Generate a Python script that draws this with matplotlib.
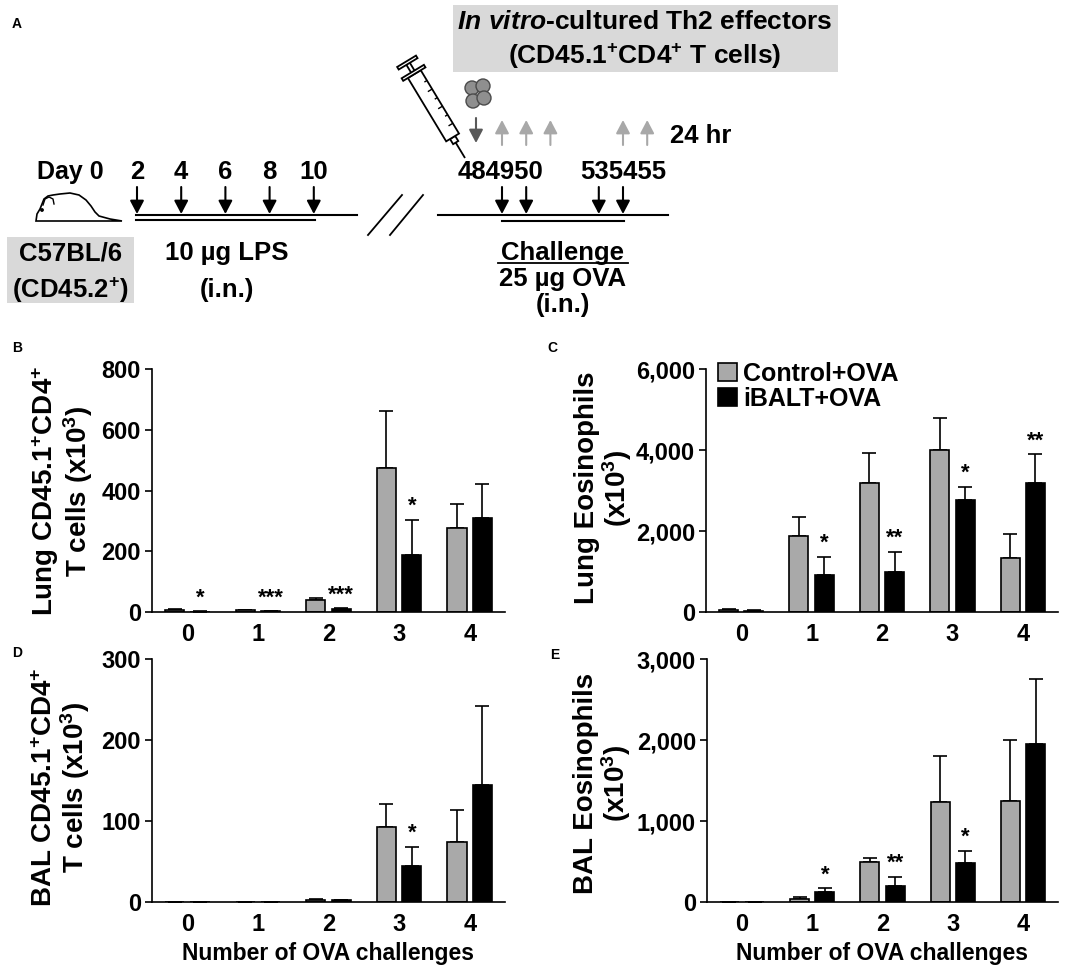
import numpy as np
import matplotlib
matplotlib.use("Agg")
import matplotlib.pyplot as plt
from matplotlib.patches import Rectangle, Circle, Polygon
from matplotlib.ticker import FuncFormatter

plt.rcParams['font.family'] = ['Liberation Sans', 'DejaVu Sans']
plt.rcParams['font.weight'] = 'bold'
plt.rcParams['mathtext.fontset'] = 'custom'
plt.rcParams['mathtext.rm'] = 'Liberation Sans:bold'
plt.rcParams['mathtext.bf'] = 'Liberation Sans:bold'
plt.rcParams['mathtext.it'] = 'Liberation Sans:bold:italic'

# ---------------- data ----------------
challenges = [0, 1, 2, 3, 4]
series_names = ['Control+OVA', 'iBALT+OVA']

b_ctrl = [8, 5, 40, 474, 278]
b_ctrl_sem = [3, 2, 5, 187, 79]
b_ibalt = [1, 2, 10, 187, 308]
b_ibalt_sem = [1, 1, 3, 117, 115]
b_stars = ['*', '***', '***', '*', '']

c_ctrl = [50, 1886, 3180, 4003, 1334]
c_ctrl_sem = [20, 470, 741, 799, 593]
c_ibalt = [30, 914, 997, 2768, 3196]
c_ibalt_sem = [10, 453, 494, 329, 700]
c_stars = ['', '*', '**', '*', '**']

d_ctrl = [0, 0, 3, 92, 74]
d_ctrl_sem = [0, 0, 1, 29, 40]
d_ibalt = [0, 0, 2, 44, 144]
d_ibalt_sem = [0, 0, 1, 24, 98]
d_stars = ['', '', '', '*', '']

e_ctrl = [0, 33, 494, 1230, 1243]
e_ctrl_sem = [0, 25, 45, 577, 761]
e_ibalt = [0, 119, 198, 477, 1951]
e_ibalt_sem = [0, 50, 115, 157, 802]
e_stars = ['', '*', '**', '*', '']

lps_days = [2, 4, 6, 8, 10]
challenge_labels = ['484950', '535455']

# ---------------- figure ----------------
W, H = 1084, 972
fig = plt.figure(figsize=(W / 100, H / 100), dpi=100)

# overlay axes in pixel coordinates for schematic (panel A) and panel letters
ov = fig.add_axes([0, 0, 1, 1])
ov.set_xlim(0, W)
ov.set_ylim(H, 0)
ov.axis('off')
ov.patch.set_alpha(0)

for lab, (px, py) in zip('ABCDE', [(17, 24), (17, 348), (552, 348), (17, 653), (555, 655)]):
    ov.text(px, py, lab, fontsize=10, fontweight='bold', ha='center', va='center')

FS_A = 18.5
# top grey box
ov.add_patch(Rectangle((453, 5), 385, 67, facecolor='#d9d9d9', edgecolor='none'))
ov.text(645, 22, r'$\mathit{In\ vitro}$-cultured Th2 effectors', fontsize=FS_A + 0.5,
        ha='center', va='center')
ov.text(645, 56, r'(CD45.1$^{+}$CD4$^{+}$ T cells)', fontsize=FS_A + 0.5, ha='center', va='center')

# mouse
mouse = [(36, 221), (37, 214), (40, 209), (42, 204), (44, 199), (48, 196), (53, 195),
         (60, 194), (70, 193), (79, 195), (86, 200), (91, 206), (95, 212), (99, 216),
         (110, 219), (122, 221)]
ov.add_patch(Polygon(mouse, closed=True, facecolor='white', edgecolor='black', lw=1.2))
ov.plot([43, 45, 49, 53, 54], [205, 199, 197, 199, 204], color='black', lw=1.0)
ov.add_patch(Circle((42, 210), 1.2, color='black'))

# C57BL/6 box
ov.add_patch(Rectangle((7, 237), 127, 66, facecolor='#d9d9d9', edgecolor='none'))
ov.text(70, 253, 'C57BL/6', fontsize=FS_A, ha='center', va='center')
ov.text(70, 290, r'(CD45.2$^{+}$)', fontsize=FS_A, ha='center', va='center')


def day_x_left(d):
    return 137 + (d - 2) * 22.1


def day_x_right(d):
    return 502 + (d - 49) * 24.2


def arrow(x, y0, y1, color='black'):
    ov.annotate('', xy=(x, y1), xytext=(x, y0),
                arrowprops=dict(arrowstyle='-|>,head_length=0.8,head_width=0.42',
                                mutation_scale=10, color=color, lw=1.5,
                                shrinkA=0, shrinkB=0))


ov.text(104, 172, 'Day 0', fontsize=FS_A - 0.5, ha='right', va='center')
for d in lps_days:
    ov.text(day_x_left(d), 172, str(d), fontsize=FS_A, ha='center', va='center')
    arrow(day_x_left(d), 187, 214)
ov.plot([136, 357], [215, 215], color='black', lw=1.5)
ov.plot([136, 315], [220, 220], color='black', lw=1.5)
ov.text(227, 253, '10 \u00b5g LPS', fontsize=FS_A, ha='center', va='center')
ov.text(227, 290, '(i.n.)', fontsize=FS_A, ha='center', va='center')

# break marks
ov.plot([402, 368], [195, 235], color='black', lw=1.3)
ov.plot([423, 390], [195, 235], color='black', lw=1.3)

# right timeline
ov.plot([438, 668], [215, 215], color='black', lw=1.5)
ov.plot([502, 624], [221, 221], color='black', lw=1.5)
for d in [49, 50, 53, 54]:
    arrow(day_x_right(d), 187, 214)
ov.text(500, 172, challenge_labels[0], fontsize=FS_A, ha='center', va='center')
ov.text(623, 172, challenge_labels[1], fontsize=FS_A, ha='center', va='center')
ov.text(563, 253, 'Challenge', fontsize=FS_A, ha='center', va='center')
ov.plot([498, 628], [263, 263], color='black', lw=1.3)
ov.text(563, 279, '25 \u00b5g OVA', fontsize=FS_A, ha='center', va='center')
ov.text(563, 305, '(i.n.)', fontsize=FS_A, ha='center', va='center')

# injection & harvest arrows
arrow(476, 118, 143, color='#595959')
for d in [49, 50, 51, 54, 55]:
    arrow(day_x_right(d), 145, 120, color='#a8a8a8')
ov.text(701, 136, '24 hr', fontsize=FS_A, ha='center', va='center')

# cells
for cx, cy in [(472, 88), (483, 86), (473, 101), (484, 98)]:
    ov.add_patch(Circle((cx, cy), 7, facecolor='#8f8f8f', edgecolor='#4a4a4a', lw=1.0))

# syringe
tip = np.array([465.0, 158.0])
dvec = np.array([-0.517, -0.856])
nvec = np.array([0.856, -0.517])


def P(s, t):
    return tip + s * dvec + t * nvec


def seg(a, b, lw=1.3):
    ov.plot([a[0], b[0]], [a[1], b[1]], color='black', lw=lw, solid_capstyle='butt')


def rect(s0, s1, hw, lw=1.3):
    pts = [P(s0, -hw), P(s1, -hw), P(s1, hw), P(s0, hw)]
    ov.add_patch(Polygon(pts, closed=True, facecolor='white', edgecolor='black', lw=lw))


seg(P(0, 0), P(18, 0))
rect(18, 24, 3)
rect(24, 98, 7.5)
for i, s in enumerate([36, 46, 56, 66, 76, 86]):
    seg(P(s, 7.5), P(s, 7.5 - (5 if i % 2 == 0 else 3)), lw=1.0)
rect(98, 101, 13)
seg(P(101, -2), P(110, -2))
seg(P(101, 2), P(110, 2))
rect(110, 113, 11)

# ---------------- bar panels ----------------
GREY = '#a9a9a9'
BW = 0.27
OFF = 0.18


def fmt_thousands(v, pos):
    return f'{int(v):,}'


def panel(rect_px, ctrl, ctrl_sem, ibalt, ibalt_sem, stars, ymax, yticks,
          ylabel, ylabel_xy, xlabel=False, legend=False):
    l, t, r, b = rect_px
    ax = fig.add_axes([l / W, 1 - b / H, (r - l) / W, (b - t) / H])
    x = np.arange(len(challenges))
    ax.bar(x - OFF, ctrl, BW, color=GREY, edgecolor='black', lw=1.2, zorder=2,
           label=series_names[0])
    ax.bar(x + OFF, ibalt, BW, color='black', edgecolor='black', lw=1.2, zorder=2,
           label=series_names[1])
    ax.errorbar(x - OFF, ctrl, yerr=[np.zeros(len(x)), ctrl_sem], fmt='none',
                ecolor='black', elinewidth=1.2, capsize=5, capthick=1.2, zorder=1)
    ax.errorbar(x + OFF, ibalt, yerr=[np.zeros(len(x)), ibalt_sem], fmt='none',
                ecolor='black', elinewidth=1.2, capsize=5, capthick=1.2, zorder=1)
    for xi, v, s, st in zip(x, ibalt, ibalt_sem, stars):
        if st:
            ax.annotate(st, xy=(xi + OFF, v + s), xytext=(0, 2), textcoords='offset points',
                        ha='center', va='bottom', fontsize=16, fontweight='bold')
    ax.set_xlim(-0.5, 4.5)
    ax.set_ylim(0, ymax)
    ax.set_yticks(yticks)
    ax.yaxis.set_major_formatter(FuncFormatter(fmt_thousands))
    ax.set_xticks(x)
    ax.set_xticklabels([str(c) for c in challenges])
    ax.tick_params(axis='x', length=0, pad=8, labelsize=17)
    ax.tick_params(axis='y', length=5, width=1.2, pad=3, labelsize=17)
    for lab in ax.get_xticklabels() + ax.get_yticklabels():
        lab.set_fontweight('bold')
    ax.spines['top'].set_visible(False)
    ax.spines['right'].set_visible(False)
    ax.spines['left'].set_linewidth(1.2)
    ax.spines['bottom'].set_linewidth(1.2)
    ax.spines['left'].set_bounds(0, ymax)
    fig.text(ylabel_xy[0] / W, 1 - ylabel_xy[1] / H, ylabel, rotation=90, ha='center',
             va='center', fontsize=20, fontweight='bold', multialignment='center',
             linespacing=1.0)
    if xlabel:
        ax.set_xlabel('Number of OVA challenges', fontsize=16.5, fontweight='bold', labelpad=4)
    if legend:
        ax.legend(loc='upper left', bbox_to_anchor=(0.035, 1.03), frameon=False,
                  fontsize=18, handlelength=0.75, handleheight=0.75, handletextpad=0.25,
                  labelspacing=0.05, borderpad=0, borderaxespad=0)
    return ax


panel((152, 369, 505, 612), b_ctrl, b_ctrl_sem, b_ibalt, b_ibalt_sem, b_stars, 800,
      [0, 200, 400, 600, 800], 'Lung CD45.1$^{+}$CD4$^{+}$\nT cells (x10$^{3}$)', (62, 491))
panel((706, 369, 1058, 612), c_ctrl, c_ctrl_sem, c_ibalt, c_ibalt_sem, c_stars, 6000,
      [0, 2000, 4000, 6000], 'Lung Eosinophils\n(x10$^{3}$)', (604, 488), legend=True)
panel((152, 659, 505, 902), d_ctrl, d_ctrl_sem, d_ibalt, d_ibalt_sem, d_stars, 300,
      [0, 100, 200, 300], 'BAL CD45.1$^{+}$CD4$^{+}$\nT cells (x10$^{3}$)', (62, 787),
      xlabel=True)
panel((707, 659, 1058, 902), e_ctrl, e_ctrl_sem, e_ibalt, e_ibalt_sem, e_stars, 3000,
      [0, 1000, 2000, 3000], 'BAL Eosinophils\n(x10$^{3}$)', (603, 783), xlabel=True)

fig.savefig('out.png', dpi=100)
